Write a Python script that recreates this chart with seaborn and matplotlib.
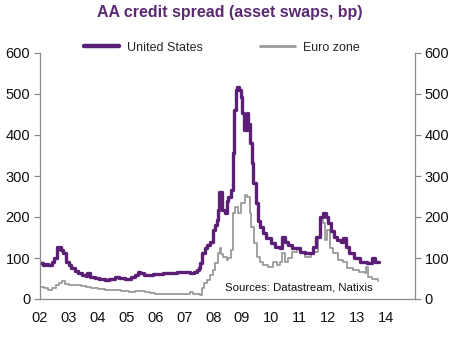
import matplotlib
matplotlib.use("Agg")
import matplotlib.pyplot as plt
import seaborn as sns
import pandas as pd

# ---- data ----
us_year = [2002.00, 2002.10, 2002.20, 2002.28, 2002.40, 2002.50, 2002.58, 2002.62, 2002.70, 2002.74,
           2002.80, 2002.91, 2003.00, 2003.09, 2003.20, 2003.32, 2003.45, 2003.58, 2003.62, 2003.75,
           2003.90, 2004.05, 2004.24, 2004.40, 2004.59, 2004.75, 2004.93, 2005.05, 2005.17, 2005.30,
           2005.40, 2005.47, 2005.60, 2005.70, 2005.90, 2006.10, 2006.27, 2006.50, 2006.74, 2006.95,
           2007.20, 2007.35, 2007.43, 2007.50, 2007.55, 2007.60, 2007.66, 2007.72, 2007.80, 2007.89,
           2008.00, 2008.08, 2008.12, 2008.18, 2008.22, 2008.30, 2008.40, 2008.47, 2008.53, 2008.62,
           2008.68, 2008.72, 2008.78, 2008.84, 2008.90, 2008.96, 2009.00, 2009.07, 2009.16, 2009.22,
           2009.28, 2009.34, 2009.40, 2009.48, 2009.56, 2009.64, 2009.73, 2009.85, 2010.00, 2010.15,
           2010.32, 2010.40, 2010.48, 2010.60, 2010.72, 2010.90, 2011.02, 2011.18, 2011.35, 2011.46,
           2011.58, 2011.70, 2011.82, 2011.93, 2012.00, 2012.10, 2012.18, 2012.30, 2012.42, 2012.52,
           2012.60, 2012.72, 2012.90, 2013.10, 2013.33, 2013.50, 2013.62, 2013.76]
us_val = [88, 84, 86, 82, 90, 100, 128, 122, 128, 120,
          112, 91, 82, 75, 68, 63, 58, 56, 63, 54,
          51, 49, 46, 50, 54, 51, 48, 50, 54, 58,
          67, 64, 58, 58, 60, 62, 63, 64, 67, 65,
          63, 66, 71, 76, 87, 111, 112, 124, 132, 140,
          168, 180, 193, 217, 262, 217, 209, 240, 250, 266,
          355, 461, 510, 518, 510, 493, 453, 412, 453, 428,
          380, 331, 282, 233, 190, 176, 160, 148, 136, 128,
          124, 152, 140, 132, 124, 124, 115, 111, 111, 128,
          152, 200, 209, 200, 185, 165, 152, 144, 140, 148,
          128, 111, 99, 91, 89, 99, 91, 91]

eu_year = [2002.00, 2002.15, 2002.28, 2002.42, 2002.56, 2002.66, 2002.76, 2002.85, 2003.00, 2003.09,
           2003.25, 2003.43, 2003.60, 2003.78, 2004.00, 2004.24, 2004.50, 2004.82, 2005.10, 2005.30,
           2005.47, 2005.65, 2005.81, 2006.00, 2006.27, 2006.50, 2006.74, 2007.00, 2007.20, 2007.30,
           2007.43, 2007.55, 2007.62, 2007.70, 2007.78, 2007.89, 2007.98, 2008.07, 2008.18, 2008.24,
           2008.29, 2008.35, 2008.47, 2008.53, 2008.62, 2008.68, 2008.75, 2008.86, 2008.98, 2009.09,
           2009.18, 2009.27, 2009.33, 2009.42, 2009.52, 2009.62, 2009.74, 2009.90, 2010.08, 2010.20,
           2010.32, 2010.40, 2010.50, 2010.58, 2010.75, 2010.90, 2011.05, 2011.20, 2011.38, 2011.50,
           2011.62, 2011.70, 2011.82, 2011.88, 2011.94, 2012.05, 2012.15, 2012.33, 2012.50, 2012.65,
           2012.85, 2013.05, 2013.25, 2013.30, 2013.36, 2013.50, 2013.62, 2013.73]
eu_val = [30, 26, 23, 28, 34, 38, 44, 37, 35, 34,
          34, 32, 29, 26, 24, 22, 21, 20, 18, 19,
          20, 17, 14, 13, 12, 12, 12, 12, 18, 13,
          12, 10, 28, 38, 46, 58, 70, 87, 111, 124,
          110, 103, 95, 99, 120, 209, 225, 209, 233, 254,
          250, 209, 176, 136, 103, 91, 83, 79, 91, 83,
          90, 111, 91, 100, 115, 124, 115, 103, 110, 115,
          152, 200, 185, 144, 168, 124, 111, 95, 91, 75,
          71, 67, 63, 79, 53, 50, 48, 45]

years = [2002, 2003, 2004, 2005, 2006, 2007, 2008, 2009, 2010, 2011, 2012, 2013, 2014]
year_labels = ["02", "03", "04", "05", "06", "07", "08", "09", "10", "11", "12", "13", "14"]
y_ticks = [0, 100, 200, 300, 400, 500, 600]

# ---- build table ----
df = pd.concat([
    pd.DataFrame({"year": us_year, "spread": us_val, "series": "United States"}),
    pd.DataFrame({"year": eu_year, "spread": eu_val, "series": "Euro zone"}),
])

purple = "#5B1F75"
grey = "#9A9A9A"
axis_col = "#8C8C8C"

sns.set_theme(style="white")
plt.rcParams["font.family"] = ["Liberation Sans", "DejaVu Sans"]

fig = plt.figure(figsize=(4.6, 3.37), dpi=100)
ax = fig.add_axes([40 / 460, 38 / 337, 375 / 460, 246 / 337])

sns.lineplot(data=df[df.series == "Euro zone"], x="year", y="spread", ax=ax,
             color=grey, linewidth=1.3, drawstyle="steps-post", legend=False)
sns.lineplot(data=df[df.series == "United States"], x="year", y="spread", ax=ax,
             color=purple, linewidth=2.4, drawstyle="steps-post", legend=False)

ax.set_xlim(2002, 2015)
ax.set_ylim(0, 600)
ax.set_xticks(years)
ax.set_xticklabels(year_labels)
ax.set_yticks(y_ticks)
ax.set_xlabel("")
ax.set_ylabel("")

for s in ["left", "right", "bottom"]:
    ax.spines[s].set_visible(True)
    ax.spines[s].set_color(axis_col)
    ax.spines[s].set_linewidth(0.9)
ax.spines["top"].set_visible(False)

ax.tick_params(axis="both", which="both", direction="out", length=4, width=0.9,
               color=axis_col, labelsize=10.5, labelcolor="#111111", pad=3)
ax.tick_params(axis="x", pad=5)
ax.tick_params(axis="y", left=True, right=True, labelleft=True, labelright=True)

ax.text(0.493, 0.045, "Sources: Datastream, Natixis", transform=ax.transAxes,
        fontsize=8.2, color="#111111", va="center", ha="left")

fig.text(0.5, 0.962, "AA credit spread (asset swaps, bp)", ha="center", va="center",
         fontsize=11.5, fontweight="bold", color="#5A2A72")

from matplotlib.lines import Line2D
handles = [Line2D([], [], color=purple, linewidth=3.2),
           Line2D([], [], color=grey, linewidth=2.0)]
fig.legend(handles, ["United States", "Euro zone"], loc="center",
           bbox_to_anchor=(0.482, 0.858), ncol=2, frameon=False, fontsize=9,
           handlelength=2.8, handletextpad=0.6, columnspacing=4.6,
           borderpad=0.0, borderaxespad=0.0)

fig.savefig("out.png", dpi=100)
